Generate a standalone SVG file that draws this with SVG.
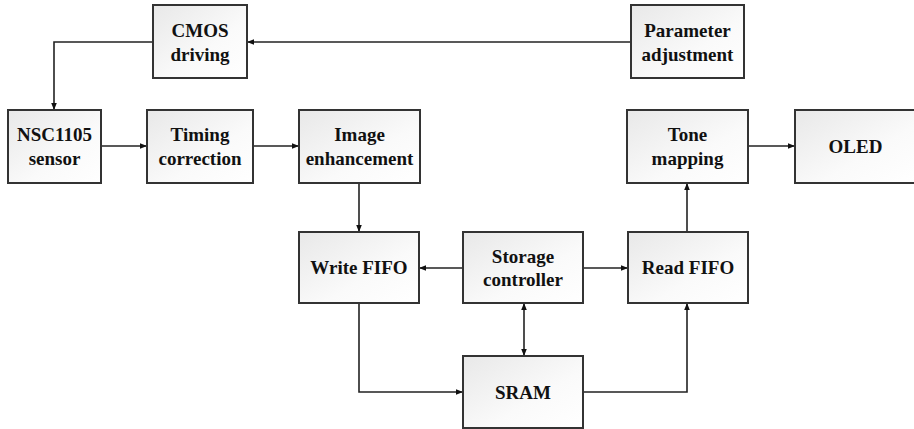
<svg xmlns="http://www.w3.org/2000/svg" width="914" height="429" viewBox="0 0 914 429">
<defs>
<linearGradient id="g" x1="0" y1="0" x2="1" y2="1">
<stop offset="0" stop-color="#e8e8e8"/>
<stop offset="0.6" stop-color="#fafafa"/>
<stop offset="1" stop-color="#ffffff"/>
</linearGradient>
<marker id="a" viewBox="0 0 10 10" refX="10" refY="5" markerWidth="7" markerHeight="7" markerUnits="userSpaceOnUse" orient="auto-start-reverse">
<path d="M0,1 L10,5 L0,9 Z" fill="#111"/>
</marker>
<style>
.box{fill:url(#g);stroke:#333;stroke-width:2}
.t{font-family:"Liberation Serif","Times New Roman",serif;font-weight:bold;font-size:19px;fill:#111;text-anchor:middle}
.c{fill:none;stroke:#222;stroke-width:1.6;marker-end:url(#a)}
</style>
</defs>
<rect width="914" height="429" fill="#fff"/>
<g id="connectors">
<path class="c" d="M631,42 H247"/>
<path class="c" d="M153,42 H54 V110"/>
<path class="c" d="M101,146 H147"/>
<path class="c" d="M253,146 H299"/>
<path class="c" d="M359,183 V232"/>
<path class="c" d="M463,268 H419"/>
<path class="c" d="M583,268 H628"/>
<path class="c" d="M524,303 V356" marker-start="url(#a)"/>
<path class="c" d="M359,303 V392 H463"/>
<path class="c" d="M583,392 H687 V303"/>
<path class="c" d="M687,232 V183"/>
<path class="c" d="M748,146 H795"/>
</g>
<g id="cmos"><rect class="box" x="153" y="5" width="94" height="73"/><text class="t" x="200" y="37">CMOS</text><text class="t" x="200" y="61">driving</text></g>
<g id="param"><rect class="box" x="631" y="5" width="113" height="73"/><text class="t" x="687.5" y="37">Parameter</text><text class="t" x="687.5" y="61">adjustment</text></g>
<g id="nsc"><rect class="box" x="8" y="110" width="93" height="73"/><text class="t" x="54.5" y="141">NSC1105</text><text class="t" x="54.5" y="165">sensor</text></g>
<g id="timing"><rect class="box" x="147" y="110" width="106" height="73"/><text class="t" x="200" y="141">Timing</text><text class="t" x="200" y="165">correction</text></g>
<g id="image"><rect class="box" x="299" y="110" width="121" height="73"/><text class="t" x="359.5" y="141">Image</text><text class="t" x="359.5" y="165">enhancement</text></g>
<g id="tone"><rect class="box" x="627" y="110" width="121" height="73"/><text class="t" x="687.5" y="141">Tone</text><text class="t" x="687.5" y="165">mapping</text></g>
<g id="oled"><rect class="box" x="795" y="110" width="122" height="73"/><text class="t" x="855.5" y="153">OLED</text></g>
<g id="writefifo"><rect class="box" x="299" y="232" width="120" height="71"/><text class="t" x="359" y="274">Write FIFO</text></g>
<g id="storage"><rect class="box" x="463" y="232" width="120" height="71"/><text class="t" x="523" y="263">Storage</text><text class="t" x="523" y="286">controller</text></g>
<g id="readfifo"><rect class="box" x="628" y="232" width="120" height="71"/><text class="t" x="688" y="274">Read FIFO</text></g>
<g id="sram"><rect class="box" x="463" y="356" width="120" height="72"/><text class="t" x="523" y="399">SRAM</text></g>
</svg>
